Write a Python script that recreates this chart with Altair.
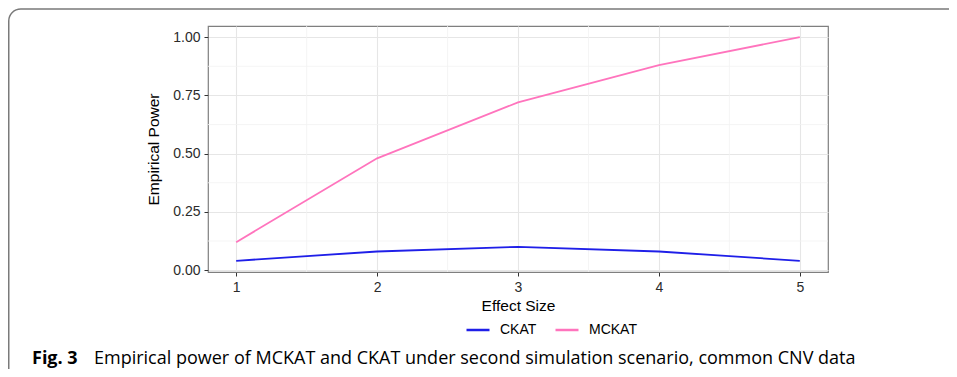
import altair as alt
import pandas as pd

# ---- data ----
effect_size = [1, 2, 3, 4, 5]
ckat = [0.04, 0.08, 0.10, 0.08, 0.04]
mckat = [0.12, 0.48, 0.72, 0.88, 1.00]
series_names = ["CKAT", "MCKAT"]
series_colors = ["#1f1fe8", "#ff74bd"]

x_major = [1, 2, 3, 4, 5]
x_minor = [1.5, 2.5, 3.5, 4.5]
y_major = [0.0, 0.25, 0.5, 0.75, 1.0]
y_minor = [0.125, 0.375, 0.625, 0.875]

caption_bold = "Fig. 3"
caption_text = "Empirical power of MCKAT and CKAT under second simulation scenario, common CNV data"

rows = []
for name, vals in zip(series_names, [ckat, mckat]):
    for x, v in zip(effect_size, vals):
        rows.append({"Effect Size": x, "Empirical Power": v, "Method": name})
df = pd.DataFrame(rows)

xscale = alt.Scale(domain=[0.8, 5.2], nice=False, zero=False)
yscale = alt.Scale(domain=[-0.008, 1.048], nice=False, zero=False)

FONT = "Liberation Sans"

xaxis = alt.Axis(values=x_major, format="d", title="Effect Size",
                 titlePadding=4, labelPadding=4)
yaxis = alt.Axis(values=y_major, format=".2f", title="Empirical Power",
                 titlePadding=11, labelPadding=4)

minor_x = alt.Chart(pd.DataFrame({"v": x_minor})).mark_rule(
    color="#f3f3f3", strokeWidth=0.8
).encode(x=alt.X("v:Q", scale=xscale, axis=xaxis, title="Effect Size"))

minor_y = alt.Chart(pd.DataFrame({"v": y_minor})).mark_rule(
    color="#f3f3f3", strokeWidth=0.8
).encode(y=alt.Y("v:Q", scale=yscale, axis=yaxis, title="Empirical Power"))

lines = alt.Chart(df).mark_line(strokeWidth=1.8).encode(
    x=alt.X("Effect Size:Q", scale=xscale, axis=xaxis, title="Effect Size"),
    y=alt.Y("Empirical Power:Q", scale=yscale, axis=yaxis, title="Empirical Power"),
    color=alt.Color(
        "Method:N",
        scale=alt.Scale(domain=series_names, range=series_colors),
        legend=alt.Legend(
            title=None, orient="none", direction="horizontal",
            legendX=257, legendY=291,
            symbolType="stroke", symbolSize=529, symbolStrokeWidth=2.5,
            labelFont=FONT, labelFontSize=14, labelColor="#000000",
            labelOffset=9, columnPadding=13,
        ),
    ),
)

one = pd.DataFrame({"a": [1]})

frame = alt.Chart(one).mark_rect(
    fillOpacity=0, stroke="#7a7a7a", strokeWidth=1.5, cornerRadius=12
).encode(
    x=alt.value(-199.25), x2=alt.value(760),
    y=alt.value(-17), y2=alt.value(400),
)

cap1 = alt.Chart(one).mark_text(
    text=caption_bold, font="Open Sans", fontWeight="bold", fontSize=18,
    align="left", baseline="alphabetic", color="#000000",
).encode(x=alt.value(-176), y=alt.value(338))

cap2 = alt.Chart(one).mark_text(
    text=caption_text, font="Open Sans", fontSize=18,
    align="left", baseline="alphabetic", color="#000000",
).encode(x=alt.value(-114), y=alt.value(338))

chart = alt.layer(minor_x, minor_y, lines, frame, cap1, cap2).properties(
    width=620,
    height=246,
    padding={"left": 200, "top": 18, "right": 121, "bottom": 97},
    autosize=alt.AutoSizeParams(type="none"),
    background="white",
).configure_view(
    stroke="#7f7f7f", strokeWidth=1.2
).configure_axis(
    grid=True, gridColor="#e6e6e6", gridWidth=1.1,
    domain=False, ticks=True, tickColor="#333333", tickSize=4, tickWidth=1,
    labelFont=FONT, labelFontSize=14, labelColor="#2b2b2b",
    titleFont=FONT, titleFontSize=15.5, titleFontWeight="normal", titleColor="#000000",
)

chart.save("out.html", embed_options={"renderer": "svg", "actions": False})
